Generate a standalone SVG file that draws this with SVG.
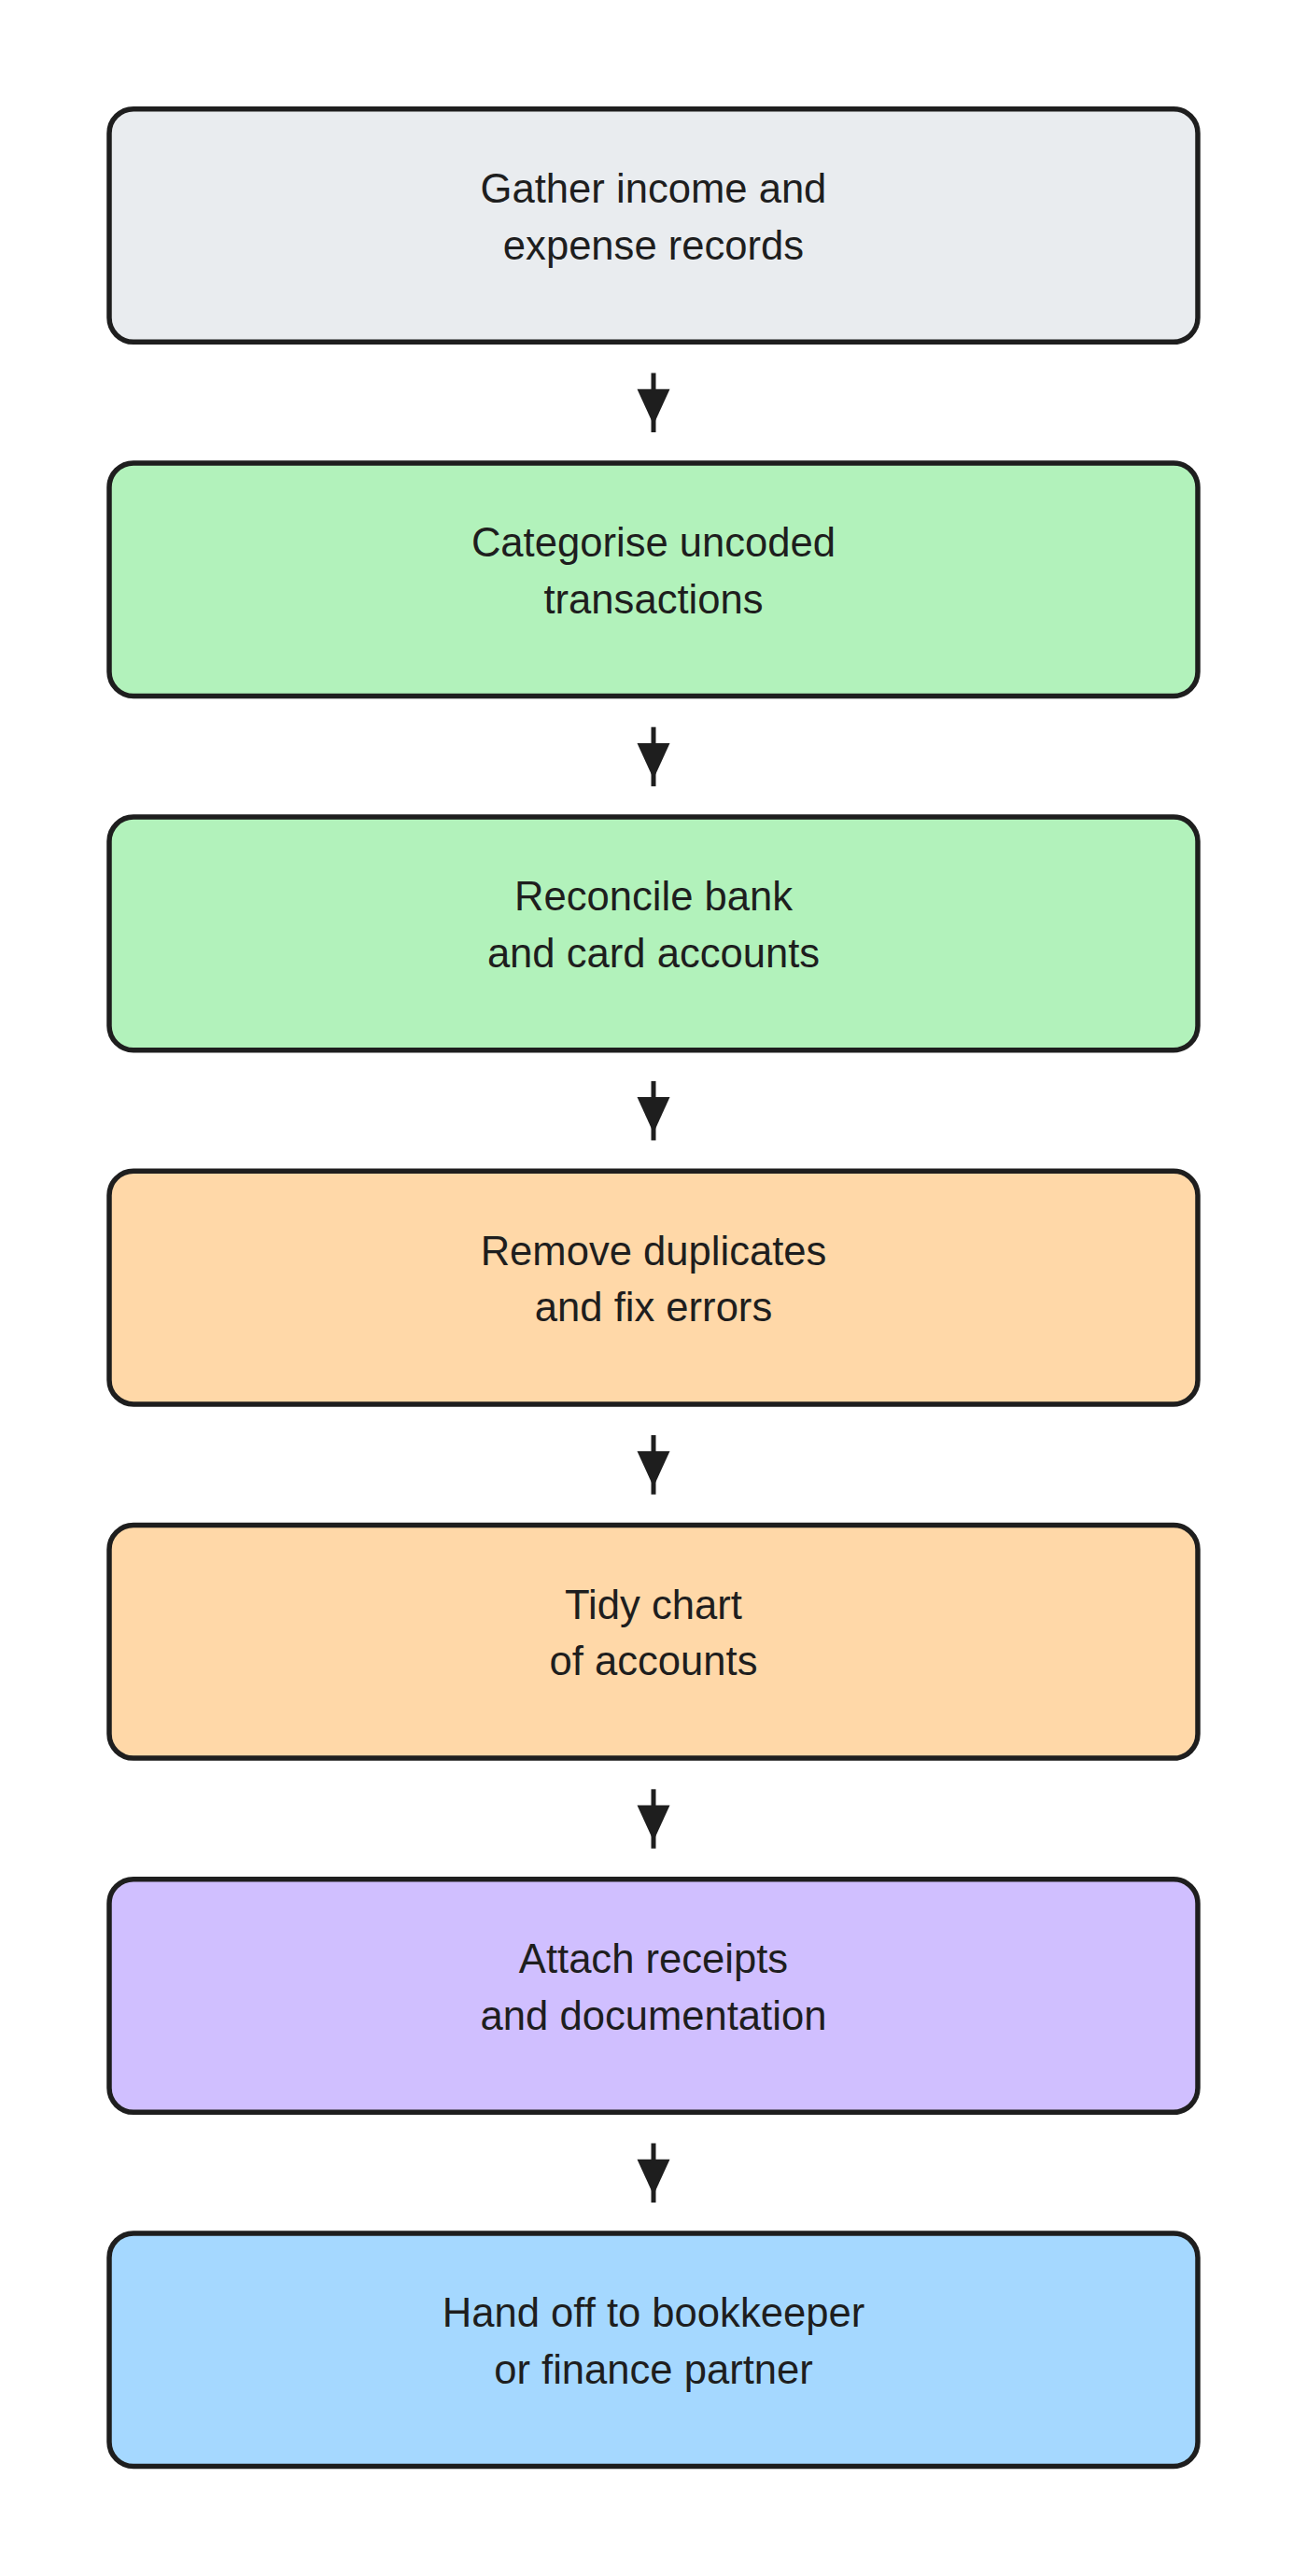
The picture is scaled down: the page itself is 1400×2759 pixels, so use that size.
<svg xmlns="http://www.w3.org/2000/svg" width="1400" height="2759" viewBox="0 0 1400 2759">
<style>
.box{stroke:#1e1e1e;stroke-width:5.5}
.lbl{font-family:"Liberation Sans",Arial,sans-serif;font-size:43.6px;fill:#1e1e1e;text-anchor:middle}
.edge line{stroke:#1e1e1e;stroke-width:5}
.edge polygon{fill:#1e1e1e}
</style>
<rect width="1400" height="2759" fill="#ffffff"/>
<g id="connectors" class="edge">
<line x1="700" y1="399.5" x2="700" y2="463"/><polygon points="682.5,416.7 717.5,416.7 700,455"/>
<line x1="700" y1="778.7" x2="700" y2="842.2"/><polygon points="682.5,795.9 717.5,795.9 700,834.2"/>
<line x1="700" y1="1157.9" x2="700" y2="1221.4"/><polygon points="682.5,1175.1 717.5,1175.1 700,1213.4"/>
<line x1="700" y1="1537.1" x2="700" y2="1600.6"/><polygon points="682.5,1554.3 717.5,1554.3 700,1592.6"/>
<line x1="700" y1="1916.3" x2="700" y2="1979.8"/><polygon points="682.5,1933.5 717.5,1933.5 700,1971.8"/>
<line x1="700" y1="2295.5" x2="700" y2="2359"/><polygon points="682.5,2312.7 717.5,2312.7 700,2351"/>
</g>
<g id="n1"><rect class="box" x="117" y="116.7" width="1166" height="249.6" rx="26" fill="#e9ecef"/>
<text class="lbl" x="700" y="217">Gather income and</text><text class="lbl" x="700" y="277.5">expense records</text></g>
<g id="n2"><rect class="box" x="117" y="495.9" width="1166" height="249.6" rx="26" fill="#b2f2bb"/>
<text class="lbl" x="700" y="596.2">Categorise uncoded</text><text class="lbl" x="700" y="656.7">transactions</text></g>
<g id="n3"><rect class="box" x="117" y="875.1" width="1166" height="249.6" rx="26" fill="#b2f2bb"/>
<text class="lbl" x="700" y="975.4">Reconcile bank</text><text class="lbl" x="700" y="1035.9">and card accounts</text></g>
<g id="n4"><rect class="box" x="117" y="1254.3" width="1166" height="249.6" rx="26" fill="#ffd8a8"/>
<text class="lbl" x="700" y="1354.6">Remove duplicates</text><text class="lbl" x="700" y="1415.1">and fix errors</text></g>
<g id="n5"><rect class="box" x="117" y="1633.5" width="1166" height="249.6" rx="26" fill="#ffd8a8"/>
<text class="lbl" x="700" y="1733.8">Tidy chart</text><text class="lbl" x="700" y="1794.3">of accounts</text></g>
<g id="n6"><rect class="box" x="117" y="2012.7" width="1166" height="249.6" rx="26" fill="#d0bfff"/>
<text class="lbl" x="700" y="2113">Attach receipts</text><text class="lbl" x="700" y="2173.5">and documentation</text></g>
<g id="n7"><rect class="box" x="117" y="2391.9" width="1166" height="249.6" rx="26" fill="#a5d8ff"/>
<text class="lbl" x="700" y="2492.2">Hand off to bookkeeper</text><text class="lbl" x="700" y="2552.7">or finance partner</text></g>
</svg>
